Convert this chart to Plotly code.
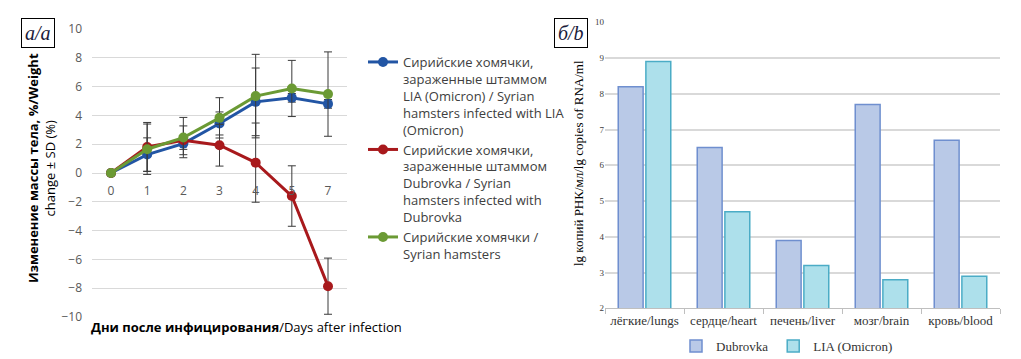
import plotly.graph_objects as go

# ---------- Data: left chart (weight change) ----------
days = ["0", "1", "2", "3", "4", "5", "7"]
lia_mean = [0, 1.28, 2.04, 3.44, 4.94, 5.22, 4.80]
lia_sd = [0, 1.16, 0.40, 0.80, 2.35, 0.30, 0.30]
dub_mean = [0, 1.81, 2.27, 1.93, 0.72, -1.60, -7.86]
dub_sd = [0, 1.70, 1.00, 1.45, 2.75, 2.10, 1.95]
ctrl_mean = [0, 1.65, 2.46, 3.83, 5.34, 5.87, 5.48]
ctrl_sd = [0, 1.75, 1.40, 1.40, 2.90, 1.95, 2.93]

left_names = [
    "Сирийские хомячки,<br>зараженные штаммом<br>LIA (Omicron) / Syrian<br>hamsters infected with LIA<br>(Omicron)",
    "Сирийские хомячки,<br>зараженные штаммом<br>Dubrovka / Syrian<br>hamsters infected with<br>Dubrovka",
    "Сирийские хомячки /<br>Syrian hamsters",
]
left_colors = ["#2255a4", "#a8191c", "#6b9a34"]

# ---------- Data: right chart (RNA) ----------
organs = ["лёгкие/lungs", "сердце/heart", "печень/liver", "мозг/brain", "кровь/blood"]
dubrovka_rna = [8.2, 6.5, 3.9, 7.7, 6.7]
lia_rna = [8.9, 4.7, 3.2, 2.8, 2.9]

W, H = 1021, 359
def px(x):
    return x / W
def py(y):
    return 1 - y / H

fig = go.Figure()

for i, (mean, sd, name, col) in enumerate(zip([lia_mean, dub_mean, ctrl_mean], [lia_sd, dub_sd, ctrl_sd], left_names, left_colors)):
    fig.add_trace(go.Scatter(
        x=days, y=mean, name=name, mode="lines+markers",
        line=dict(color=col, width=3),
        marker=dict(color=col, size=10),
        error_y=dict(type="data", array=sd, visible=True, color="#3a3a3a", thickness=1, width=4),
        xaxis="x", yaxis="y", legend="legend", legendgroup="g%d" % i,
    ))

fig.add_trace(go.Bar(
    x=organs, y=dubrovka_rna, name="Dubrovka",
    marker=dict(color="#b9c9e7", line=dict(color="#6f8fcf", width=1.5)),
    xaxis="x2", yaxis="y2", legend="legend2",
))
fig.add_trace(go.Bar(
    x=organs, y=lia_rna, name="LIA (Omicron)",
    marker=dict(color="#ade0eb", line=dict(color="#4bacc6", width=1.5)),
    xaxis="x2", yaxis="y2", legend="legend2",
))

grid = "#d9d9d9"
sans = "Open Sans, Liberation Sans, sans-serif"
tickfont_l = dict(family=sans, size=12, color="#595959")
serif = "Liberation Serif, Times New Roman, serif"

ydom_l = [py(317), py(29)]
zero_pos = ydom_l[0] + (ydom_l[1] - ydom_l[0]) * 0.5

fig.update_layout(
    width=W, height=H,
    margin=dict(l=0, r=0, t=0, b=0, autoexpand=False),
    paper_bgcolor="white", plot_bgcolor="white",
    showlegend=True,
    barmode="group", bargap=0.3, bargroupgap=0.1,
    xaxis=dict(domain=[px(92), px(347)], type="category", categoryorder="array", categoryarray=days,
               anchor="free", position=zero_pos, showgrid=False, showline=False, zeroline=False,
               ticks="outside", ticklen=7, tickcolor="rgba(0,0,0,0)", tickfont=tickfont_l,
               automargin=False),
    yaxis=dict(domain=ydom_l, range=[-10, 10], dtick=2, anchor="x", showgrid=True, gridcolor=grid,
               gridwidth=1.3, zeroline=False, showline=False, tickfont=tickfont_l, ticks="",
               ticklabelstandoff=9, automargin=False),
    xaxis2=dict(domain=[px(605), px(1000)], anchor="y2", type="category", showgrid=False,
                showline=True, linecolor="#bfbfbf", linewidth=1.3, ticks="outside", tickson="boundaries",
                ticklen=5, tickcolor="#bfbfbf", automargin=False,
                tickfont=dict(family=serif, size=13, color="#333333")),
    yaxis2=dict(domain=[py(308.3), py(22.3)], anchor="x2", range=[2, 10], dtick=1, showgrid=True,
                gridcolor=grid, gridwidth=1.5, zeroline=False, showline=False, automargin=False,
                tickfont=dict(family=serif, size=9, color="#404040"), ticks=""),
    legend=dict(x=px(363), y=py(47), xanchor="left", yanchor="top", valign="top",
                font=dict(family=sans, size=13, color="#404040"),
                itemwidth=30, tracegroupgap=0, bgcolor="rgba(0,0,0,0)"),
    legend2=dict(orientation="h", x=px(787), y=py(346), xanchor="center", yanchor="middle",
                 font=dict(family=serif, size=13, color="#333333"), bgcolor="rgba(0,0,0,0)",
                 itemwidth=30),
    annotations=[
        dict(text="<i>а/а</i>", x=px(38), y=py(33), xref="paper", yref="paper", showarrow=False,
             xanchor="center", yanchor="middle",
             font=dict(family=serif, size=20, color="#1a1a3a"), bordercolor="black", borderwidth=1,
             borderpad=3, bgcolor="white"),
        dict(text="<i>б/b</i>", x=px(571), y=py(33), xref="paper", yref="paper", showarrow=False,
             xanchor="center", yanchor="middle",
             font=dict(family=serif, size=20, color="#1a1a3a"), bordercolor="black", borderwidth=1,
             borderpad=3, bgcolor="white"),
        dict(text="<b>Изменение массы тела, %/Weight</b><br>change ± SD (%)", x=px(41), y=py(168),
             xref="paper", yref="paper", showarrow=False, textangle=-90,
             xanchor="center", yanchor="middle",
             font=dict(family=sans, size=13, color="black")),
        dict(text="<b>Дни после инфицирования</b>/Days after infection", x=px(246), y=py(327),
             xref="paper", yref="paper", showarrow=False, xanchor="center", yanchor="middle",
             font=dict(family=sans, size=13, color="black")),
        dict(text="lg копий РНК/мл/lg copies of RNA/ml", x=px(578), y=py(163),
             xref="paper", yref="paper", showarrow=False, textangle=-90,
             xanchor="center", yanchor="middle",
             font=dict(family=serif, size=13, color="black")),
    ],
)

fig.write_html("out.html", config={"displayModeBar": False},
               post_script="document.body.style.margin='0';document.body.style.overflow='hidden';")
